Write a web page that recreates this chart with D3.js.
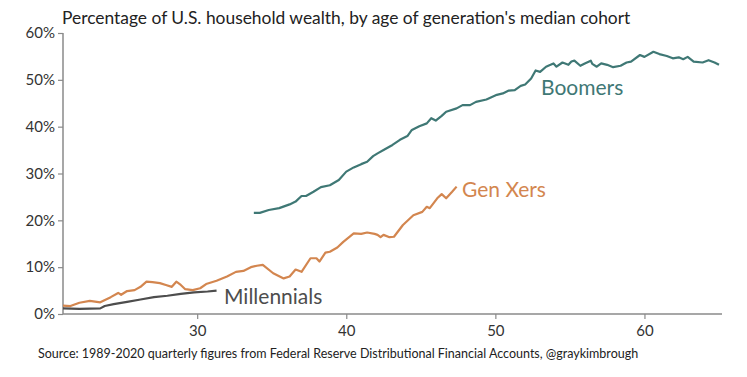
<!DOCTYPE html>
<html>
<head>
<meta charset="utf-8">
<script src="https://cdn.jsdelivr.net/npm/d3@7"></script>
<style>
  html, body { margin: 0; padding: 0; background: #fff; }
  svg { display: block; font-family: Lato, "Open Sans", sans-serif; }
</style>
</head>
<body>
<svg id="chart" width="747" height="377"></svg>
<script>
const title = "Percentage of U.S. household wealth, by age of generation's median cohort";
const source = "Source: 1989-2020 quarterly figures from Federal Reserve Distributional Financial Accounts, @graykimbrough";
const xTicks = [30, 40, 50, 60];
const yTicks = [0, 10, 20, 30, 40, 50, 60];

const boomers = [
  [33.8,21.6],[34.2,21.6],[34.8,22.2],[35.5,22.6],[36.2,23.4],[36.6,24.0],[37.0,25.2],[37.3,25.2],[37.8,26.1],
  [38.3,27.1],[38.9,27.5],[39.5,28.6],[40.0,30.4],[40.5,31.3],[41.0,32.0],[41.4,32.5],[41.8,33.7],[42.1,34.3],
  [42.5,35.0],[43.1,36.1],[43.6,37.2],[44.1,38.0],[44.4,39.3],[44.9,40.1],[45.4,40.7],[45.7,41.8],[46.0,41.3],
  [46.4,42.3],[46.7,43.2],[47.4,43.9],[47.8,44.6],[48.3,44.6],[48.7,45.3],[49.4,45.8],[50.1,46.8],[50.5,47.1],
  [50.9,47.7],[51.3,47.8],[51.7,48.7],[52.0,49.0],[52.4,50.3],[52.7,52.0],[53.0,51.7],[53.4,52.8],[53.7,53.2],
  [53.9,53.5],[54.1,52.8],[54.5,53.7],[54.9,53.2],[55.1,53.9],[55.3,54.1],[55.7,53.0],[56.0,53.5],[56.4,54.1],
  [56.5,53.4],[56.8,52.8],[57.1,53.5],[57.5,53.2],[57.9,52.7],[58.4,53.0],[58.8,53.7],[59.1,53.9],[59.7,55.3],
  [60.0,54.9],[60.6,56.0],[61.0,55.5],[61.5,55.1],[61.9,54.6],[62.3,54.8],[62.6,54.4],[62.9,54.9],[63.3,53.9],
  [63.9,53.7],[64.3,54.2],[64.7,53.7],[65.0,53.2]
];

const genX = [
  [21.0,1.8],[21.5,1.7],[22.1,2.4],[22.8,2.8],[23.5,2.5],[24.2,3.6],[24.7,4.5],[24.9,4.1],[25.3,4.9],[25.8,5.1],
  [26.2,5.8],[26.6,6.9],[27.0,6.8],[27.5,6.6],[27.9,6.2],[28.3,5.8],[28.6,6.9],[28.9,6.2],[29.2,5.3],[29.7,5.1],
  [30.2,5.5],[30.6,6.4],[31.3,7.1],[32.0,8.0],[32.6,9.0],[33.1,9.2],[33.6,10.0],[34.0,10.3],[34.4,10.5],
  [35.1,8.7],[35.8,7.6],[36.2,8.0],[36.6,9.5],[37.0,9.0],[37.6,11.9],[38.0,11.9],[38.2,11.2],[38.6,13.1],
  [38.9,13.3],[39.4,14.2],[39.8,15.4],[40.5,17.2],[41.0,17.1],[41.4,17.4],[41.9,17.1],[42.1,16.9],[42.3,16.4],
  [42.5,16.9],[42.9,16.4],[43.2,16.5],[43.8,19.0],[44.5,21.1],[45.1,21.8],[45.4,22.9],[45.6,22.6],[46.1,24.7],
  [46.4,25.6],[46.7,24.7],[47.1,26.1],[47.4,27.2]
];

const millennials = [
  [21.0,1.2],[22.1,1.1],[23.5,1.2],[23.8,1.7],[24.4,2.1],[25.3,2.6],[26.2,3.1],[27.1,3.6],[28.0,3.9],
  [28.9,4.3],[29.8,4.6],[30.7,4.8],[31.3,5.0]
];

const series = [
  { name: "Boomers", data: boomers, color: "#3f7875", label: [541, 95] },
  { name: "Gen Xers", data: genX, color: "#d3864f", label: [462, 197] },
  { name: "Millennials", data: millennials, color: "#4d4d4d", label: [224, 304] }
];

const svg = d3.select("#chart");
const x = d3.scaleLinear().domain([21, 65]).range([63, 719]);
const y = d3.scaleLinear().domain([0, 60]).range([314, 33]);

// Title
svg.append("text").attr("x", 62).attr("y", 24)
  .attr("font-size", 17.4).attr("fill", "#222").text(title);

// Y axis
const yAxis = svg.append("g").attr("transform", "translate(63,0)")
  .call(d3.axisLeft(y).tickValues(yTicks).tickFormat(d => d + "%").tickSize(5).tickSizeOuter(0));
yAxis.select(".domain").attr("stroke", "#8a8a8a").attr("stroke-width", 1.5)
  .attr("d", `M0,${y(60)}V${y(0)}`);
yAxis.selectAll(".tick line").attr("stroke", "#8a8a8a").attr("stroke-width", 1.2);
yAxis.selectAll(".tick text").attr("font-family", "Lato, sans-serif").attr("font-size", 15)
  .attr("fill", "#333").attr("x", -8);

// X axis
const xAxis = svg.append("g").attr("transform", "translate(0,314)")
  .call(d3.axisBottom(x).tickValues(xTicks).tickFormat(d3.format("d")).tickSize(5).tickSizeOuter(0));
xAxis.select(".domain").attr("stroke", "#8a8a8a").attr("stroke-width", 1.5)
  .attr("d", `M${x(21)},0H${x(65) + 3}`);
xAxis.selectAll(".tick line").attr("stroke", "#8a8a8a").attr("stroke-width", 1.2);
xAxis.selectAll(".tick text").attr("font-family", "Lato, sans-serif").attr("font-size", 15)
  .attr("fill", "#333").attr("y", 11);

// Lines
const line = d3.line().x(d => x(d[0])).y(d => y(d[1])).curve(d3.curveLinear);
series.forEach(s => {
  svg.append("path").datum(s.data)
    .attr("fill", "none").attr("stroke", s.color).attr("stroke-width", 2.2)
    .attr("stroke-linejoin", "round").attr("d", line);
  svg.append("text").attr("x", s.label[0]).attr("y", s.label[1])
    .attr("font-size", 21).attr("fill", s.color).text(s.name);
});

// Source
svg.append("text").attr("x", 38).attr("y", 358)
  .attr("font-size", 12.5).attr("fill", "#222").text(source);
</script>
</body>
</html>
